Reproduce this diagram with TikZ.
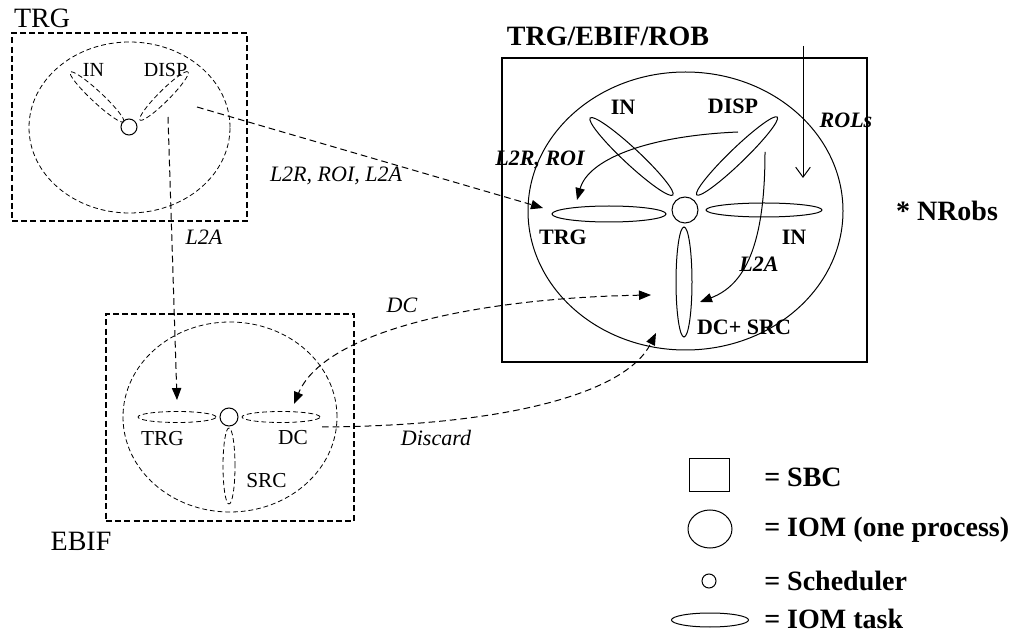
\documentclass[tikz,border=0pt]{standalone}
\usepackage{fontspec}
\setmainfont{Liberation Serif}
\usetikzlibrary{arrows.meta,shapes.geometric}
\begin{document}
\begin{tikzpicture}[x=0.75pt,y=-0.75pt,
  sz/.style 2 args={minimum width=#1*0.75pt, minimum height=#2*0.75pt},
  sbcdash/.style={draw, rectangle, inner sep=0, line width=1.1pt, dash pattern=on 4.5pt off 2.4pt},
  sbcsolid/.style={draw, rectangle, inner sep=0, line width=0.9pt},
  iomdash/.style={draw, ellipse, inner sep=0, line width=0.6pt, dash pattern=on 3.6pt off 2.2pt},
  iomsolid/.style={draw, ellipse, inner sep=0, line width=0.75pt},
  schedsolid/.style={draw, circle, inner sep=0, line width=0.75pt},
  lblbig/.style={inner sep=0, font=\fontsize{21}{24}\selectfont},
  lblbigb/.style={inner sep=0, font=\fontsize{21}{24}\selectfont\bfseries},
  lblsm/.style={inner sep=0, font=\fontsize{15}{18}\selectfont},
  lblmd/.style={inner sep=0, font=\fontsize{16}{19}\selectfont},
  lblb/.style={inner sep=0, font=\fontsize{16.5}{19}\selectfont\bfseries},
  lblit/.style={inner sep=0, font=\fontsize{16.5}{19}\selectfont\itshape},
  lblbi/.style={inner sep=0, font=\fontsize{16.5}{19}\selectfont\bfseries\itshape},
  dasharrow/.style={line width=0.75pt, dash pattern=on 5pt off 3pt, -{Triangle[length=9pt,width=7pt]}},
  solidarrow/.style={line width=0.75pt, -{Triangle[length=9pt,width=7pt]}},
]
\useasboundingbox (0,0) rectangle (1021,634);

% ---------- TRG SBC ----------
\node[sbcdash, sz={235}{188}] (trgbox) at (129.5,127) {};
\node[iomdash, sz={201}{171}] (trgiom) at (129.5,127.5) {};
\node[schedsolid, sz={16}{16}] (trgsched) at (129,127) {};
\node[iomdash, sz={73}{11}, rotate=-43] (trgin) at (97,97) {};
\node[iomdash, sz={68}{11}, rotate=45] (trgdisp) at (164,96) {};
\node[lblbig] (trgtitle) at (42,18) {TRG};
\node[lblsm] (trginl) at (93.5,70) {IN};
\node[lblsm] (trgdispl) at (165.5,70) {DISP};

% ---------- EBIF SBC ----------
\node[sbcdash, sz={248}{207}] (ebifbox) at (230,417.5) {};
\node[iomdash, sz={214}{190}] (ebifiom) at (230,417) {};
\node[schedsolid, sz={18}{18}] (ebifsched) at (229,417) {};
\node[iomdash, sz={78}{11}] (ebiftrg) at (177,417) {};
\node[iomdash, sz={78}{11}] (ebifdc) at (281,417) {};
\node[iomdash, sz={12}{76}] (ebifsrc) at (229,466) {};
\node[lblmd] (ebiftrgl) at (162.5,439) {TRG};
\node[lblmd] (ebifdcl) at (293,438) {DC};
\node[lblmd] (ebifsrcl) at (266.5,481) {SRC};
\node[lblbig] (ebiftitle) at (81,541) {EBIF};

% ---------- TRG/EBIF/ROB SBC ----------
\node[sbcsolid, sz={365}{304}] (robbox) at (684.5,210) {};
\node[iomsolid, sz={315}{278}] (robiom) at (685.5,211) {};
\node[schedsolid, sz={26}{26}] (robsched) at (685,210) {};
\node[iomsolid, sz={113}{16}, rotate=-43] (robin) at (631.5,156.5) {};
\node[iomsolid, sz={112}{15}, rotate=44] (robdisp) at (737,156) {};
\node[iomsolid, sz={114}{16}] (robtrg) at (609,214) {};
\node[iomsolid, sz={116}{14}] (robin2) at (764,210) {};
\node[iomsolid, sz={16}{110}] (robdc) at (684,282) {};
\node[lblbigb] (robtitle) at (608,36) {TRG/EBIF/ROB};
\node[lblb] (robinl) at (623,107) {IN};
\node[lblb] (robdispl) at (733,106) {DISP};
\node[lblb] (robtrgl) at (563,237) {TRG};
\node[lblb] (robin2l) at (794,237) {IN};
\node[lblb] (robdcl) at (744,327) {DC+ SRC};
\node[lblbi] (l2rroi) at (540,160) {L2R, ROI};
\node[lblbi] (rols) at (846,120) {ROLs};
\node[lblbi] (l2ain) at (759,264.5) {L2A};
\node[lblbigb] (nrobs) at (947,211) {* NRobs};

% ---------- connectors ----------
\coordinate (c1s) at (197,107);
\coordinate (c1e) at (543,208);
\draw[dasharrow] (c1s) -- (c1e);
\node[lblit] (l1) at (336,176) {L2R, ROI, L2A};

\coordinate (c2s) at (168,117);
\coordinate (c2e) at (177,400);
\draw[dasharrow] (c2s) -- (c2e);
\node[lblit] (l2) at (204,237) {L2A};

\coordinate (c3a) at (651,295);
\coordinate (c3b) at (294,404);
\draw[dasharrow, {Triangle[length=9pt,width=7pt]}-{Triangle[length=9pt,width=7pt]}] (c3a) .. controls (480,298) and (325,330) .. (c3b);
\node[lblit] (l3) at (402,305) {DC};

\coordinate (c4s) at (322,427);
\coordinate (c4e) at (656,333);
\draw[dasharrow] (c4s) .. controls (500,426) and (625,395) .. (c4e);
\node[lblit] (l4) at (436,438) {Discard};

\coordinate (c5s) at (738,132);
\coordinate (c5e) at (577,200);
\draw[solidarrow] (c5s) .. controls (645,136) and (588,160) .. (c5e);

\coordinate (c6s) at (765,152);
\coordinate (c6e) at (700,302);
\draw[solidarrow] (c6s) .. controls (765,245) and (745,285) .. (c6e);

\coordinate (c7s) at (803,46);
\coordinate (c7e) at (803,178);
\draw[line width=0.75pt, -{Straight Barb[length=7.5pt,width=11pt]}] (c7s) -- (c7e);

% ---------- legend ----------
\node[sbcsolid, line width=0.75pt, sz={40}{33}] (legsbc) at (709,474.5) {};
\node[iomsolid, sz={44}{38}] (legiom) at (710,529) {};
\node[schedsolid, sz={14}{14}] (legsched) at (709,581) {};
\node[iomsolid, sz={77}{14}] (legtask) at (710,620) {};
\node[lblbigb, anchor=west] (legsbcl) at (764,477) {= SBC};
\node[lblbigb, anchor=west] (legioml) at (764,530) {= IOM (one process)};
\node[lblbigb, anchor=west] (legschedl) at (764,581) {= Scheduler};
\node[lblbigb, anchor=west] (legtaskl) at (764,619) {= IOM task};
\end{tikzpicture}
\end{document}
